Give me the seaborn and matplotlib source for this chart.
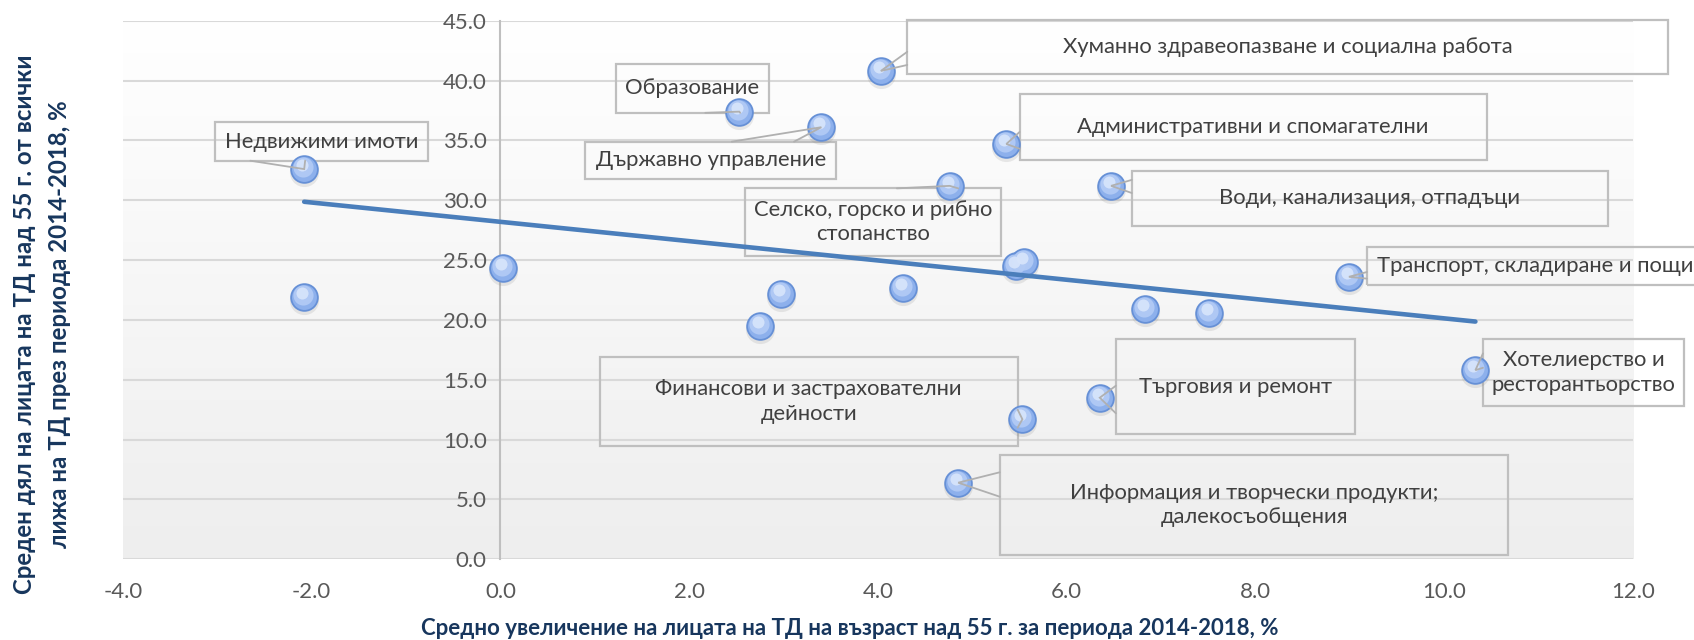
import numpy as np
import matplotlib
matplotlib.use("Agg")
import matplotlib.pyplot as plt
from matplotlib.patches import Rectangle
from matplotlib.colors import LinearSegmentedColormap
from matplotlib.transforms import offset_copy
import seaborn as sns

# Average growth (x) and average share (y) of employed persons aged 55+, by sector
growth = [-2.08, -2.08, 0.03, 2.53, 3.40, 4.03, 2.75, 2.97, 4.27, 4.76, 5.36,
          5.46, 5.55, 6.47, 6.83, 7.51, 8.99, 10.33, 6.35, 5.53, 4.85]
share = [32.6, 21.9, 24.3, 37.4, 36.1, 40.8, 19.5, 22.2, 22.7, 31.2, 34.7,
         24.5, 24.8, 31.2, 20.9, 20.6, 23.6, 15.8, 13.5, 11.7, 6.4]
sector = ["Недвижими имоти", "", "", "Образование", "Държавно управление",
          "Хуманно здравеопазване и социална работа", "", "", "",
          "Селско, горско и рибно\nстопанство", "Административни и спомагателни",
          "", "", "Води, канализация, отпадъци", "", "",
          "Транспорт, складиране и пощи", "Хотелиерство и\nресторантьорство",
          "Търговия и ремонт", "Финансови и застрахователни\nдейности",
          "Информация и творчески продукти;\nдалекосъобщения"]

x_ticks = [-4, -2, 0, 2, 4, 6, 8, 10, 12]
y_ticks = [0, 5, 10, 15, 20, 25, 30, 35, 40, 45]
x_title = "Средно увеличение на лицата на ТД на възраст над 55 г. за периода 2014-2018, %"
y_title = "Среден дял на лицата на ТД над 55 г. от всички\nлижа на ТД през периода 2014-2018, %"

# Callout layout: box (x0, y0, x1, y1) and the two wedge anchors on the box edge
callouts = {
    "Недвижими имоти": ((-3.02, 33.3, -0.77, 36.5), ((-2.65, 33.3), (-2.07, 33.3))),
    "Образование": ((1.22, 37.3, 2.85, 41.4), ((2.17, 37.3), (2.54, 37.3))),
    "Държавно управление": ((0.90, 31.77, 3.56, 34.89), ((2.45, 34.89), (3.11, 34.89))),
    "Хуманно здравеопазване и социална работа": ((4.31, 40.55, 12.37, 45.05), ((4.31, 42.4), (4.31, 41.3))),
    "Селско, горско и рибно\nстопанство": ((2.59, 25.36, 5.30, 30.99), ((4.20, 30.99), (4.85, 30.99))),
    "Административни и спомагателни": ((5.50, 33.36, 10.45, 38.87), ((5.50, 35.7), (5.50, 34.3))),
    "Води, канализация, отпадъци": ((6.69, 27.87, 11.73, 32.44), ((6.69, 31.7), (6.69, 30.6))),
    "Транспорт, складиране и пощи": ((9.18, 22.92, 12.75, 26.07), ((9.18, 24.0), (9.18, 23.45))),
    "Хотелиерство и\nресторантьорство": ((10.41, 12.81, 12.54, 18.40), ((10.41, 17.2), (10.41, 16.0))),
    "Търговия и ремонт": ((6.52, 10.44, 9.05, 18.38), ((6.52, 14.5), (6.52, 12.2))),
    "Финансови и застрахователни\nдейности": ((1.05, 9.49, 5.48, 16.88), ((5.48, 12.5), (5.48, 11.0))),
    "Информация и творчески продукти;\nдалекосъобщения": ((5.29, 0.36, 10.68, 8.71), ((5.29, 7.27), (5.29, 5.23))),
}

sns.set_theme(style="white")
plt.rcParams["font.family"] = ["Lato", "Noto Sans", "DejaVu Sans"]

fig = plt.figure(figsize=(16.94, 6.40), dpi=100)
ax = fig.add_axes([0.0726, 0.1261, 0.8914, 0.8416])

# plot-area gradient
grad = np.linspace(0, 1, 256).reshape(-1, 1)
cmap = LinearSegmentedColormap.from_list("bg", ["#FFFFFF", "#EEEEEE"])
ax.imshow(grad, cmap=cmap, aspect="auto", extent=(0, 1, 0, 1),
          transform=ax.transAxes, zorder=-1)

# marker shadow and layered fill
shadow = offset_copy(ax.transData, fig=fig, x=0, y=-3, units="dots")
sns.scatterplot(x=growth, y=share, s=440, color="#7F7F7F", alpha=0.16,
                linewidth=0, transform=shadow, ax=ax, zorder=3)
sns.scatterplot(x=growth, y=share, s=370, color="#8DB0EC", edgecolor="#6690D6",
                linewidth=1.3, ax=ax, zorder=3)
up1 = offset_copy(ax.transData, fig=fig, x=-1, y=2, units="dots")
sns.scatterplot(x=growth, y=share, s=210, color="#B3CBF5", linewidth=0,
                alpha=0.9, transform=up1, ax=ax, zorder=3)
up2 = offset_copy(ax.transData, fig=fig, x=-2, y=4, units="dots")
sns.scatterplot(x=growth, y=share, s=75, color="#D8E5FB", linewidth=0,
                alpha=0.9, transform=up2, ax=ax, zorder=3)

# linear trend
sns.regplot(x=growth, y=share, scatter=False, ci=None, truncate=True,
            color="#4A7EBB", line_kws=dict(lw=3.3, zorder=4), ax=ax)

# callouts
for gx, sy, name in zip(growth, share, sector):
    if not name:
        continue
    (x0, y0, x1, y1), (a1, a2) = callouts[name]
    ax.add_patch(Rectangle((x0, y0), x1 - x0, y1 - y0, fill=False,
                           edgecolor="#BFBFBF", lw=1.6, zorder=2, clip_on=False))
    ax.plot([a1[0], gx, a2[0]], [a1[1], sy, a2[1]], color="#B0B0B0", lw=1.3,
            zorder=5, clip_on=False, solid_joinstyle="miter")
    ax.text((x0 + x1) / 2, (y0 + y1) / 2, name, ha="center", va="center",
            multialignment="center", linespacing=1.3, fontsize=15.8,
            color="#404040", zorder=6, clip_on=False)

ax.set_xlim(-4, 12)
ax.set_ylim(0, 45)
ax.set_xticks(x_ticks)
ax.set_xticklabels([f"{t:.1f}" for t in x_ticks])
ax.set_yticks(y_ticks)
ax.set_yticklabels([f"{t:.1f}" for t in y_ticks])

for side in ["top", "right", "bottom"]:
    ax.spines[side].set_visible(False)
ax.spines["left"].set_position(("data", 0))
ax.spines["left"].set_color("#BFBFBF")
ax.spines["left"].set_linewidth(1.5)

ax.yaxis.grid(True, color="#D9D9D9", lw=1.5)
ax.xaxis.grid(False)
ax.set_axisbelow(True)
ax.tick_params(axis="y", length=0, pad=10, labelsize=16, labelcolor="#595959")
ax.tick_params(axis="x", length=0, pad=16, labelsize=16, labelcolor="#595959")

ax.set_xlabel(x_title, fontsize=16, fontweight="bold", color="#17365D", va="center")
ax.xaxis.set_label_coords(0.4815, -0.1276)
ax.set_ylabel(y_title, fontsize=17.3, fontweight="bold", color="#17365D",
              va="center", ha="center", multialignment="center", linespacing=1.6)
ax.yaxis.set_label_coords(-0.0536, 0.437)

fig.savefig("out.png", dpi=100)
